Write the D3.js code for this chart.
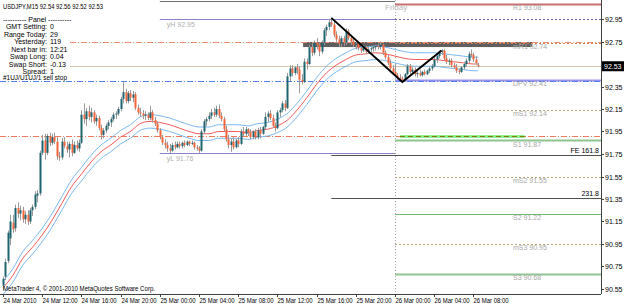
<!DOCTYPE html>
<html>
<head>
<meta charset="utf-8">
<script src="https://cdn.jsdelivr.net/npm/d3@7/dist/d3.min.js"></script>
<style>
  body { margin: 0; background: #fff; }
  svg { display: block; font-family: "Liberation Sans", Arial, sans-serif; }
</style>
</head>
<body>
<svg id="chart" width="625" height="306"></svg>
<script>
// USDJPY M15, bars from 24 Mar 2010 08:00 (one bar every 15 minutes)
const opens = [90.58,90.66,90.80,91.00,91.14,91.09,91.27,91.22,91.25,91.17,91.21,91.15,91.25,91.28,91.38,91.40,91.76,91.87,91.76,91.91,
  91.85,91.90,91.86,91.73,91.72,91.86,91.82,91.79,91.84,91.76,91.83,91.80,91.85,92.10,92.06,92.13,92.08,92.12,92.04,92.07,
  91.98,91.92,91.96,92.00,92.03,92.06,92.10,92.11,92.15,92.24,92.30,92.22,92.29,92.25,92.28,92.16,92.12,92.11,92.09,92.10,
  92.07,92.12,92.05,92.02,91.96,91.90,91.85,91.83,91.80,91.78,91.83,91.81,91.84,91.82,91.85,91.83,91.86,91.84,91.85,91.81,
  91.80,91.78,91.95,92.04,92.06,92.09,92.12,92.10,92.15,92.09,92.06,91.97,91.88,91.83,91.86,91.81,91.87,91.84,91.95,91.93,
  91.97,91.94,91.90,91.95,91.90,91.96,91.93,91.99,92.08,92.11,92.07,92.00,91.98,92.12,92.14,92.20,92.16,92.44,92.51,92.47,
  92.52,92.50,92.41,92.39,92.57,92.55,92.70,92.65,92.74,92.72,92.66,92.74,92.85,92.88,92.92,92.90,92.81,92.77,92.73,92.78,
  92.74,92.84,92.78,92.75,92.72,92.73,92.69,92.67,92.70,92.66,92.68,92.69,92.70,92.71,92.70,92.72,92.65,92.61,92.56,92.51,
  92.48,92.45,92.43,92.42,92.41,92.46,92.53,92.48,92.50,92.46,92.47,92.45,92.48,92.46,92.49,92.51,92.53,92.59,92.62,92.66,
  92.67,92.60,92.57,92.58,92.54,92.52,92.49,92.48,92.52,92.55,92.58,92.64,92.63,92.59,92.54];
const highs = [90.66,90.82,91.07,91.21,91.21,91.30,91.32,91.29,91.28,91.24,91.25,91.27,91.30,91.42,91.43,91.78,91.92,91.93,91.93,91.94,
  91.93,91.94,91.90,91.77,91.89,91.90,91.86,91.86,91.88,91.86,91.87,91.88,92.14,92.20,92.16,92.18,92.16,92.14,92.10,92.09,
  92.01,91.98,92.02,92.05,92.08,92.12,92.13,92.17,92.26,92.40,92.33,92.31,92.32,92.31,92.30,92.19,92.16,92.14,92.13,92.12,
  92.18,92.14,92.08,92.04,91.98,91.92,91.88,91.86,91.84,91.85,91.86,91.86,91.86,91.86,91.87,91.87,91.87,91.87,91.86,91.83,
  91.82,91.97,92.06,92.08,92.12,92.15,92.16,92.18,92.19,92.12,92.08,92.00,91.92,91.89,91.90,91.89,91.90,91.97,91.99,91.99,
  91.98,91.97,91.96,91.97,91.98,91.99,92.00,92.12,92.13,92.14,92.10,92.03,92.14,92.16,92.22,92.23,92.47,92.54,92.54,92.53,
  92.55,92.53,92.46,92.60,92.60,92.72,92.74,92.76,92.78,92.74,92.76,92.87,92.90,92.94,92.96,92.93,92.84,92.80,92.80,92.80,
  92.87,92.86,92.81,92.79,92.75,92.74,92.72,92.72,92.71,92.70,92.70,92.71,92.72,92.73,92.75,92.73,92.67,92.63,92.59,92.54,
  92.55,92.47,92.46,92.44,92.47,92.55,92.55,92.52,92.52,92.49,92.50,92.49,92.50,92.50,92.53,92.55,92.61,92.64,92.67,92.68,
  92.68,92.63,92.60,92.60,92.56,92.55,92.51,92.53,92.57,92.60,92.66,92.68,92.65,92.62,92.56];
const lows = [90.54,90.63,90.78,90.94,91.05,91.06,91.18,91.16,91.14,91.13,91.12,91.13,91.20,91.26,91.32,91.38,91.74,91.70,91.74,91.82,
  91.83,91.84,91.70,91.69,91.70,91.80,91.76,91.72,91.73,91.75,91.78,91.77,91.84,92.02,92.00,92.05,92.03,92.02,92.00,91.96,
  91.88,91.89,91.94,91.97,91.99,92.04,92.06,92.09,92.13,92.20,92.20,92.20,92.22,92.21,92.14,92.10,92.08,92.06,92.05,92.05,
  92.05,92.03,92.00,91.94,91.88,91.83,91.80,91.77,91.76,91.77,91.79,91.80,91.80,91.80,91.81,91.82,91.82,91.83,91.79,91.78,
  91.76,91.77,91.93,92.00,92.04,92.06,92.08,92.08,92.07,92.04,91.95,91.86,91.80,91.77,91.79,91.80,91.81,91.83,91.91,91.91,
  91.91,91.88,91.88,91.88,91.88,91.89,91.92,91.97,92.03,92.05,91.98,91.95,91.97,92.08,92.12,92.13,92.15,92.40,92.44,92.45,
  92.46,92.29,92.37,92.38,92.50,92.54,92.62,92.63,92.68,92.62,92.64,92.72,92.80,92.85,92.88,92.79,92.74,92.70,92.70,92.71,
  92.72,92.76,92.72,92.70,92.68,92.67,92.65,92.66,92.64,92.64,92.65,92.66,92.67,92.68,92.68,92.63,92.59,92.54,92.49,92.46,
  92.43,92.41,92.40,92.39,92.39,92.45,92.46,92.46,92.44,92.43,92.44,92.44,92.45,92.45,92.47,92.49,92.52,92.56,92.60,92.63,
  92.58,92.55,92.54,92.52,92.51,92.47,92.46,92.47,92.50,92.53,92.56,92.61,92.57,92.54,92.52];
const closes = [90.64,90.79,91.05,91.15,91.08,91.27,91.22,91.25,91.17,91.21,91.15,91.25,91.28,91.39,91.40,91.76,91.87,91.76,91.91,91.85,
  91.90,91.86,91.73,91.72,91.86,91.82,91.79,91.84,91.76,91.83,91.80,91.85,92.10,92.06,92.13,92.08,92.12,92.04,92.07,91.98,
  91.92,91.96,92.00,92.03,92.06,92.10,92.11,92.15,92.24,92.30,92.22,92.29,92.25,92.28,92.16,92.12,92.11,92.09,92.10,92.07,
  92.12,92.05,92.02,91.96,91.90,91.85,91.83,91.80,91.78,91.83,91.81,91.84,91.82,91.85,91.83,91.86,91.84,91.85,91.81,91.80,
  91.78,91.95,92.04,92.06,92.09,92.12,92.10,92.15,92.09,92.06,91.97,91.88,91.83,91.86,91.81,91.87,91.84,91.95,91.93,91.97,
  91.94,91.90,91.95,91.90,91.96,91.93,91.99,92.08,92.11,92.07,92.00,91.98,92.12,92.14,92.20,92.16,92.44,92.51,92.47,92.52,
  92.50,92.41,92.39,92.57,92.55,92.70,92.65,92.74,92.72,92.66,92.74,92.85,92.88,92.92,92.90,92.81,92.77,92.73,92.78,92.74,
  92.84,92.78,92.75,92.72,92.73,92.69,92.67,92.70,92.66,92.68,92.69,92.70,92.71,92.70,92.72,92.65,92.61,92.56,92.51,92.48,
  92.45,92.43,92.42,92.41,92.46,92.53,92.48,92.50,92.46,92.47,92.45,92.48,92.46,92.49,92.51,92.53,92.59,92.62,92.66,92.67,
  92.60,92.57,92.58,92.54,92.52,92.49,92.48,92.52,92.55,92.58,92.64,92.63,92.59,92.56,92.53];

// moving average band, read every 4 bars (last point = last bar)
const maBars  = [0,4,8,12,16,20,24,28,32,36,40,44,48,52,56,60,64,68,72,76,80,84,88,92,96,100,104,108,112,116,120,124,128,132,136,140,144,148,152,156,160,164,168,172,176,180,184,188,192,194];
const maMid   = [90.56,90.67,90.82,90.92,91.03,91.16,91.31,91.46,91.57,91.68,91.77,91.83,91.90,91.95,92.02,92.04,92.03,92.01,91.98,91.95,91.93,91.93,91.95,91.95,91.95,91.94,91.96,91.97,92.00,92.05,92.14,92.25,92.37,92.47,92.54,92.59,92.63,92.64,92.65,92.64,92.62,92.60,92.59,92.59,92.59,92.58,92.57,92.56,92.55,92.55];
const maUpper = [90.62,90.73,90.88,90.98,91.09,91.22,91.37,91.52,91.63,91.74,91.83,91.89,91.96,92.01,92.08,92.10,92.09,92.07,92.04,92.01,91.99,91.99,92.01,92.01,92.01,92.00,92.02,92.03,92.06,92.11,92.20,92.31,92.43,92.53,92.60,92.65,92.69,92.70,92.71,92.70,92.68,92.66,92.65,92.65,92.65,92.64,92.63,92.62,92.61,92.61];
const maLower = [90.50,90.61,90.76,90.86,90.97,91.10,91.25,91.40,91.51,91.62,91.71,91.77,91.84,91.89,91.96,91.98,91.97,91.95,91.92,91.89,91.87,91.87,91.89,91.89,91.89,91.88,91.90,91.91,91.94,91.99,92.08,92.19,92.31,92.41,92.48,92.53,92.57,92.58,92.59,92.58,92.56,92.54,92.53,92.53,92.53,92.52,92.51,92.50,92.49,92.49];

// zigzag swing points [bar, price]
const zigzag = [[134, 92.96], [163, 92.39], [179, 92.67]];

// daily pivot levels (drawn from Friday open)
const pivotNames  = ["R1", "mR1", "DPV", "mS1", "S1", "mS2", "S2", "mS3", "S3"];
const pivotPrices = [93.08, 92.74, 92.41, 92.14, 91.87, 91.55, 91.22, 90.95, 90.68];

const priceTicks = [92.95, 92.75, 92.55, 92.35, 92.15, 91.95, 91.75, 91.55, 91.35, 91.15, 90.95, 90.75, 90.55];
const panelLabels = ["GMT Setting:", "Range Today:", "Yesterday:", "Next bar in:", "Swap Long:", "Swap Short:", "Spread:"];
const panelValues = ["0", "29", "119", "12:21", "0.04", "-0.13", "1"];

const yHigh = 92.95, yLow = 91.76;
const sellStop = 92.395, stopLine = 91.91, tpLine = 92.75, bid = 92.53;
const fibo = [["FE 161.8", 91.745], ["231.8", 91.355]];

const svg = d3.select("#chart");
const plotRight = 601, plotBottom = 294;

const t0 = Date.UTC(2010, 2, 24, 8, 0);
const barTime = i => new Date(t0 + i * 15 * 60000);
const x = d3.scaleUtc()
  .domain([barTime(0), barTime(160)])
  .range([3, 395]);
const xb = i => x(barTime(i));
const y = d3.scaleLinear().domain([90.55, 92.95]).range([289, 19]);

const fri = xb(160);

function hline(price, x1, x2, color, width, dash) {
  svg.append("line")
    .attr("x1", x1).attr("x2", x2)
    .attr("y1", Math.round(y(price)) + 0.5).attr("y2", Math.round(y(price)) + 0.5)
    .attr("stroke", color).attr("stroke-width", width)
    .attr("stroke-dasharray", dash || null);
}
function label(txt, px, py, color, size, anchor, len) {
  const t = svg.append("text").attr("x", px).attr("y", py)
    .attr("fill", color).attr("font-size", size || 7)
    .attr("text-anchor", anchor || "start")
    .text(txt);
  if (len) t.attr("textLength", len).attr("lengthAdjust", "spacingAndGlyphs");
  return t;
}

// top gray line over yesterday
svg.append("line").attr("x1", xb(64)).attr("x2", fri)
  .attr("y1", 1.5).attr("y2", 1.5).attr("stroke", "#707070");

// Friday separator
svg.append("line").attr("x1", Math.round(fri) + 0.5).attr("x2", Math.round(fri) + 0.5)
  .attr("y1", 0).attr("y2", plotBottom)
  .attr("stroke", "#a8a8a8").attr("stroke-dasharray", "1,2");
label("Friday", fri - 10, 10, "#b8b8b8", 8);

// gray zone near mR1
svg.append("rect")
  .attr("x", xb(122.5)).attr("width", xb(216) - xb(122.5))
  .attr("y", y(92.745)).attr("height", 5)
  .attr("fill", "#5e5e5e");

// yesterday high / low
hline(yHigh, xb(64), fri, "#8a80c8", 1);
hline(yLow, xb(64), fri, "#8a80c8", 1);
label("yH 92.95", xb(64) + 7, y(yHigh) + 8, "#b0b0b0");
label("yL 91.76", xb(64) + 7, y(yLow) + 8, "#b0b0b0");

// pivots
const pivotStyle = {
  R1: ["#c87070", 2, null], mR1: ["#d08050", 1, "2,2"], DPV: ["#9a90f0", 2, null],
  mS1: ["#b4a870", 1, "2,2"], S1: ["#90c490", 2, null], mS2: ["#b4a870", 1, "2,2"],
  S2: ["#70b870", 1, null], mS3: ["#b4a870", 1, "2,2"], S3: ["#90c490", 2, null]
};
pivotNames.forEach((n, k) => {
  const st = pivotStyle[n];
  hline(pivotPrices[k], fri, plotRight, st[0], st[1], st[2]);
});
hline(yHigh, fri, plotRight, "#6060a8", 1, "2,2");

// order lines
hline(tpLine, 70, plotRight, "#f08c70", 1, "6,2,1,2");
hline(bid, 70, plotRight, "#d4c6a8", 1);
hline(sellStop, 0, plotRight, "#5080f0", 1, "6,2,1,2");
hline(stopLine, 0, plotRight, "#f07a5a", 1, "6,2,1,2");
hline(stopLine, xb(162), xb(213), "#90f090", 3);
hline(stopLine, xb(162), xb(213), "#8a7a10", 1, "5,3");

// fibo expansion lines
fibo.forEach(([name, p]) => {
  hline(p, xb(134), plotRight, "#505050", 1);
  label(name, plotRight - 2, y(p) - 2, "#000", 7, "end");
});

// moving averages
const maLine = vals => d3.line()
  .x((d, k) => xb(maBars[k]))
  .y(d => y(d))
  .curve(d3.curveMonotoneX)(vals);
[[maUpper, "#7ab8f0"], [maLower, "#7ab8f0"], [maMid, "#f05a5a"]].forEach(([vals, c]) => {
  svg.append("path").attr("d", maLine(vals))
    .attr("fill", "none").attr("stroke", c).attr("stroke-width", 1);
});

// candles
const bars = d3.range(opens.length);
svg.append("g").selectAll("line").data(bars).join("line")
  .attr("x1", i => Math.round(xb(i)) + 0.5).attr("x2", i => Math.round(xb(i)) + 0.5)
  .attr("y1", i => y(highs[i])).attr("y2", i => y(lows[i]))
  .attr("stroke", "#9a9a9a").attr("stroke-width", 1);
svg.append("g").selectAll("rect").data(bars).join("rect")
  .attr("x", i => Math.round(xb(i)) - 0.5)
  .attr("width", 2)
  .attr("y", i => y(Math.max(opens[i], closes[i])))
  .attr("height", i => Math.max(1, Math.abs(y(opens[i]) - y(closes[i]))))
  .attr("fill", i => closes[i] >= opens[i] ? "#1f6570" : "#f4643a");

// zigzag
svg.append("path")
  .attr("d", d3.line().x(d => xb(d[0])).y(d => y(d[1]))(zigzag))
  .attr("fill", "none").attr("stroke", "#000").attr("stroke-width", 2);

// pivot labels
pivotNames.forEach((n, k) => {
  label(n + " " + pivotPrices[k].toFixed(2), 513, y(pivotPrices[k]) + 6, "#a8a8a8");
});

// axes frame
svg.append("line").attr("x1", plotRight + 0.5).attr("x2", plotRight + 0.5)
  .attr("y1", 0).attr("y2", plotBottom).attr("stroke", "#404040");
svg.append("line").attr("x1", 0).attr("x2", plotRight)
  .attr("y1", plotBottom + 0.5).attr("y2", plotBottom + 0.5).attr("stroke", "#404040");

// price axis (the bid box covers the 92.55 label)
const yAxis = svg.append("g");
priceTicks.forEach(p => {
  const py = Math.round(y(p)) + 0.5;
  yAxis.append("line").attr("x1", plotRight).attr("x2", plotRight + 3)
    .attr("y1", py).attr("y2", py).attr("stroke", "#404040");
  if (Math.abs(y(p) - y(bid)) < 8) return;
  yAxis.append("text").attr("x", plotRight + 4).attr("y", py + 2.5)
    .attr("font-size", 7).attr("fill", "#000").text(p.toFixed(2));
});
svg.append("rect").attr("x", plotRight + 1).attr("y", y(bid) - 5)
  .attr("width", 22).attr("height", 10).attr("fill", "#000");
svg.append("text").attr("x", plotRight + 3).attr("y", y(bid) + 2.5)
  .attr("font-size", 7).attr("fill", "#fff").text(bid.toFixed(2));

// time axis
const fmt = d3.utcFormat("%d %b %H:%M");
x.ticks(d3.utcHour.every(4)).concat([barTime(176), barTime(192)]).forEach((t, k) => {
  const tx = Math.round(x(t)) + 0.5;
  if (tx > 480) return;
  svg.append("line").attr("x1", tx).attr("x2", tx)
    .attr("y1", plotBottom).attr("y2", plotBottom + 3).attr("stroke", "#404040");
  label(k === 0 ? "24 Mar 2010" : fmt(t), tx, 303, "#000", 7, "start", k === 0 ? 33 : 35);
});

// title, panel, notes
label("USDJPY,M15  92.54 92.56 92.52 92.53", 3, 9, "#000", 7, "start", 100);
label("---------- Panel ----------", 3, 21.5, "#000");
panelLabels.forEach((l, k) => {
  label(l, 47, 29 + k * 7.5, "#000", 7, "end");
  label(panelValues[k], 50, 29 + k * 7.5, "#000");
});
label("#1UJ/U1UJ/1 sell stop", 3, 80, "#000", 6.5, "start", 64);
label("MetaTrader 4, \u00a9 2001-2010 MetaQuotes Software Corp.", 3, 291, "#000", 7, "start", 152);
</script>
</body>
</html>
